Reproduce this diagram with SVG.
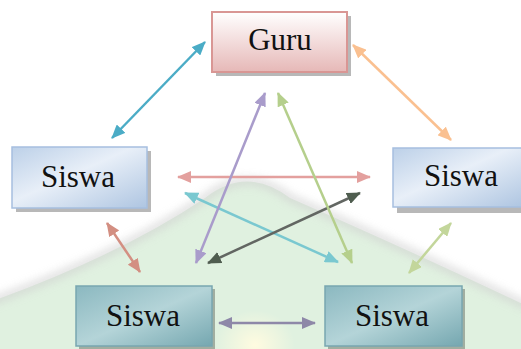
<svg xmlns="http://www.w3.org/2000/svg" width="521" height="349" viewBox="0 0 521 349">
<defs>
<style>
.lbl{font-family:"Liberation Serif","Times New Roman",serif;font-size:31px;fill:#111;text-anchor:middle}
.shadow{fill:#000;opacity:0.28}
.conn line{stroke-width:2.5;fill:none}
</style>
<linearGradient id="gPink" x1="0" y1="0" x2="0" y2="1">
<stop offset="0" stop-color="#ffffff"/><stop offset="1" stop-color="#e6b8b7"/>
</linearGradient>
<linearGradient id="gBlue" x1="0" y1="0" x2="1" y2="1">
<stop offset="0" stop-color="#bcd0e8"/><stop offset="0.45" stop-color="#e8eff8"/><stop offset="1" stop-color="#aec5e1"/>
</linearGradient>
<linearGradient id="gTeal" x1="0" y1="0" x2="1" y2="1">
<stop offset="0" stop-color="#8bb8c0"/><stop offset="0.5" stop-color="#b4d4d8"/><stop offset="1" stop-color="#75a7b0"/>
</linearGradient>
<radialGradient id="gGlow" cx="0.5" cy="0.5" r="0.5">
<stop offset="0" stop-color="#fffbe0"/><stop offset="1" stop-color="#fffbe0" stop-opacity="0"/>
</radialGradient>
<filter id="blur" x="-20%" y="-20%" width="140%" height="140%"><feGaussianBlur stdDeviation="4"/></filter>
<marker id="mCyan" viewBox="0 0 14 12" refX="13" refY="6" markerWidth="14" markerHeight="12" markerUnits="userSpaceOnUse" orient="auto-start-reverse"><path d="M0,0 L14,6 L0,12 z" fill="#4bacc6"/></marker>
<marker id="mOrange" viewBox="0 0 14 12" refX="13" refY="6" markerWidth="14" markerHeight="12" markerUnits="userSpaceOnUse" orient="auto-start-reverse"><path d="M0,0 L14,6 L0,12 z" fill="#fac090"/></marker>
<marker id="mRed" viewBox="0 0 14 12" refX="13" refY="6" markerWidth="14" markerHeight="12" markerUnits="userSpaceOnUse" orient="auto-start-reverse"><path d="M0,0 L14,6 L0,12 z" fill="#e3a09e"/></marker>
<marker id="mAqua" viewBox="0 0 14 12" refX="13" refY="6" markerWidth="14" markerHeight="12" markerUnits="userSpaceOnUse" orient="auto-start-reverse"><path d="M0,0 L14,6 L0,12 z" fill="#7ac8d0"/></marker>
<marker id="mDark" viewBox="0 0 14 12" refX="13" refY="6" markerWidth="14" markerHeight="12" markerUnits="userSpaceOnUse" orient="auto-start-reverse"><path d="M0,0 L14,6 L0,12 z" fill="#4f5d4f"/></marker>
<marker id="mPurple" viewBox="0 0 14 12" refX="13" refY="6" markerWidth="14" markerHeight="12" markerUnits="userSpaceOnUse" orient="auto-start-reverse"><path d="M0,0 L14,6 L0,12 z" fill="#a99ccb"/></marker>
<marker id="mGreen" viewBox="0 0 14 12" refX="13" refY="6" markerWidth="14" markerHeight="12" markerUnits="userSpaceOnUse" orient="auto-start-reverse"><path d="M0,0 L14,6 L0,12 z" fill="#b5cf8c"/></marker>
<marker id="mSalmon" viewBox="0 0 14 12" refX="13" refY="6" markerWidth="14" markerHeight="12" markerUnits="userSpaceOnUse" orient="auto-start-reverse"><path d="M0,0 L14,6 L0,12 z" fill="#d38f82"/></marker>
<marker id="mLime" viewBox="0 0 14 12" refX="13" refY="6" markerWidth="14" markerHeight="12" markerUnits="userSpaceOnUse" orient="auto-start-reverse"><path d="M0,0 L14,6 L0,12 z" fill="#c3d69b"/></marker>
<marker id="mMauve" viewBox="0 0 14 12" refX="13" refY="6" markerWidth="14" markerHeight="12" markerUnits="userSpaceOnUse" orient="auto-start-reverse"><path d="M0,0 L14,6 L0,12 z" fill="#8e88a8"/></marker>
</defs>
<rect width="521" height="349" fill="#ffffff"/>
<g id="watermark">
<path d="M-10,302 Q120,255 205,198 Q247,165 290,198 Q420,255 531,308 L531,360 L-10,360 z" fill="#e0f1e0"/>
<path d="M-10,302 Q120,255 205,198 Q247,165 290,198 Q420,255 531,308" fill="none" stroke="#d0d0d0" stroke-width="8" opacity="0.7" filter="url(#blur)"/>
<ellipse cx="255" cy="345" rx="40" ry="35" fill="url(#gGlow)"/>
</g>
<g id="connectors" class="conn">
<line x1="112" y1="138" x2="205" y2="42" stroke="#4bacc6" marker-start="url(#mCyan)" marker-end="url(#mCyan)"/>
<line x1="353" y1="45" x2="451" y2="140" stroke="#fac090" marker-start="url(#mOrange)" marker-end="url(#mOrange)"/>
<line x1="178" y1="177" x2="370" y2="177" stroke="#e3a09e" marker-start="url(#mRed)" marker-end="url(#mRed)"/>
<line x1="185" y1="193" x2="338" y2="262" stroke="#7ac8d0" marker-start="url(#mAqua)" marker-end="url(#mAqua)"/>
<line x1="360" y1="193" x2="208" y2="263" stroke="#626662" marker-start="url(#mDark)" marker-end="url(#mDark)"/>
<line x1="265" y1="93" x2="196" y2="263" stroke="#a99ccb" marker-start="url(#mPurple)" marker-end="url(#mPurple)"/>
<line x1="278" y1="93" x2="352" y2="263" stroke="#b5cf8c" marker-start="url(#mGreen)" marker-end="url(#mGreen)"/>
<line x1="107" y1="223" x2="140" y2="272" stroke="#d38f82" marker-start="url(#mSalmon)" marker-end="url(#mSalmon)"/>
<line x1="451" y1="223" x2="409" y2="273" stroke="#c3d69b" marker-start="url(#mLime)" marker-end="url(#mLime)"/>
<line x1="219" y1="323" x2="315" y2="323" stroke="#8e88a8" marker-start="url(#mMauve)" marker-end="url(#mMauve)"/>
</g>
<g id="guru">
<rect class="shadow" x="216" y="16" width="135" height="60"/>
<rect x="212" y="12" width="135" height="60" fill="url(#gPink)" stroke="#d99694" stroke-width="2"/>
<text class="lbl" x="280" y="50">Guru</text>
</g>
<g id="siswa-left">
<rect class="shadow" x="16" y="151" width="135" height="61"/>
<rect x="12" y="147" width="135" height="61" fill="url(#gBlue)" stroke="#a6bfdf" stroke-width="1.5"/>
<text class="lbl" x="78" y="187">Siswa</text>
</g>
<g id="siswa-right">
<rect class="shadow" x="397" y="152" width="130" height="61"/>
<rect x="393" y="148" width="130" height="59" fill="url(#gBlue)" stroke="#a6bfdf" stroke-width="1.5"/>
<text class="lbl" x="461" y="186">Siswa</text>
</g>
<g id="siswa-bottom-left">
<rect class="shadow" x="79" y="289" width="136" height="60"/>
<rect x="76" y="286" width="136" height="60" fill="url(#gTeal)" stroke="#78a6b0" stroke-width="1.5"/>
<text class="lbl" x="143" y="326">Siswa</text>
</g>
<g id="siswa-bottom-right">
<rect class="shadow" x="328" y="289" width="137" height="60"/>
<rect x="325" y="286" width="137" height="60" fill="url(#gTeal)" stroke="#78a6b0" stroke-width="1.5"/>
<text class="lbl" x="392" y="326">Siswa</text>
</g>
</svg>
